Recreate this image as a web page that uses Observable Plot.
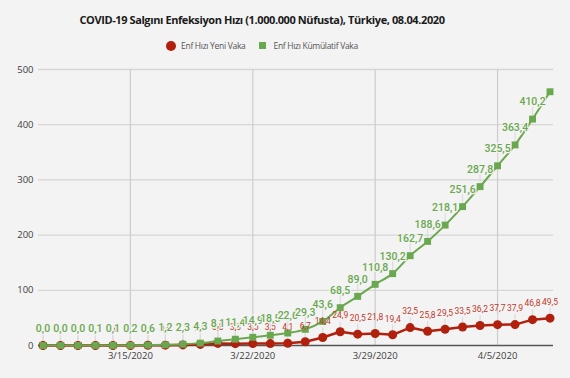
<!DOCTYPE html>
<html><head><meta charset="utf-8">
<script src="https://cdn.jsdelivr.net/npm/d3@7"></script>
<script src="https://cdn.jsdelivr.net/npm/@observablehq/plot@0.6"></script>
<style>
html,body{margin:0;padding:0;background:#f3f3f3;}
#wrap{width:570px;height:378px;background:#f3f3f3;position:relative;overflow:hidden;}
#title{position:absolute;top:12px;left:0;width:524px;text-align:center;font-family:"Open Sans",sans-serif;font-weight:bold;font-size:11px;letter-spacing:-0.4px;color:#1a1a1a;white-space:nowrap;}
#legend{position:absolute;top:40px;left:0;width:524px;display:flex;justify-content:center;align-items:center;font-family:"Open Sans",sans-serif;font-size:8.5px;letter-spacing:-0.3px;color:#555;}
.sw{display:inline-block;margin-right:5px;}
.item{display:flex;align-items:center;margin:0 7px;}
#chart{position:absolute;top:58px;left:0;}
</style></head>
<body><div id="wrap">
<div id="title">COVID-19 Salgını Enfeksiyon Hızı (1.000.000 Nüfusta), Türkiye, 08.04.2020</div>
<div id="legend">
 <span class="item"><span class="sw" style="width:10px;height:10px;border-radius:50%;background:#b0200c"></span>Enf Hızı Yeni Vaka</span>
 <span class="item"><span class="sw" style="width:7px;height:7px;background:#6aa84f;margin-right:7px"></span>Enf Hızı Kümülatif Vaka</span>
</div>
<div id="chart"></div>
</div>
<script>
const dates = ["2020-03-10","2020-03-11","2020-03-12","2020-03-13","2020-03-14","2020-03-15","2020-03-16","2020-03-17","2020-03-18","2020-03-19",
"2020-03-20","2020-03-21","2020-03-22","2020-03-23","2020-03-24","2020-03-25","2020-03-26","2020-03-27","2020-03-28","2020-03-29",
"2020-03-30","2020-03-31","2020-04-01","2020-04-02","2020-04-03","2020-04-04","2020-04-05","2020-04-06","2020-04-07","2020-04-08"];
const yeniVaka = [0.0,0.0,0.0,0.1,0.0,0.1,0.4,0.6,1.1,2.0,
3.8,3.3,3.5,3.5,4.1,6.7,14.4,24.9,20.5,21.8,
19.4,32.5,25.8,29.5,33.5,36.2,37.7,37.9,46.8,49.5];
const kumulatifVaka = [0.0,0.0,0.0,0.1,0.1,0.2,0.6,1.2,2.3,4.3,
8.1,11.4,14.9,18.5,22.6,29.3,43.6,68.5,89.0,110.8,
130.2,162.7,188.6,218.1,251.6,287.8,325.5,363.4,410.2,459.7];
const showKumLabel = dates.map((d,i)=> i < dates.length-1);
const yTicks = [0,100,200,300,400,500];
const xTicks = ["2020-03-15","2020-03-22","2020-03-29","2020-04-05"];

const RED = "#b0200c", GREEN = "#6aa84f";
const parse = d3.utcParse("%Y-%m-%d");
const rows = dates.map((d,i)=>({date: parse(d), yeni: yeniVaka[i], kum: kumulatifVaka[i], showKum: showKumLabel[i]}));
const fmt = v => d3.format(".1f")(v).replace(".", ",");
const leader = {draw(ctx, l){ ctx.moveTo(0,0); ctx.lineTo(0,-l); }};

const chart = Plot.plot({
  width: 570, height: 320,
  marginLeft: 38, marginRight: 17, marginTop: 11, marginBottom: 33,
  style: {background: "transparent", fontFamily: "Open Sans, sans-serif"},
  x: {type: "utc", domain: [new Date("2020-03-09T17:50:00Z"), new Date("2020-04-08T04:48:00Z")]},
  y: {domain: [0, 500]},
  marks: [
    Plot.gridY(yTicks.filter(d => d > 0), {stroke: "#d6d6d6", strokeOpacity: 1, strokeWidth: 1.3}),
    Plot.gridX(xTicks.map(parse), {stroke: "#cdcdcd", strokeOpacity: 1, strokeWidth: 1.2}),
    Plot.axisY(yTicks, {tickSize: 0, tickPadding: 5, fontSize: 9.5, fill: "#404040", label: null}),
    Plot.axisX(xTicks.map(parse), {tickSize: 0, tickPadding: 7, fontSize: 9.5, fill: "#404040", label: null, tickFormat: d3.utcFormat("%-m/%-d/%Y")}),
    Plot.vector(rows, {x: "date", y: "kum", length: 12, rotate: 0, anchor: "start", shape: leader, stroke: "#dcdcdc", strokeWidth: 1.2, filter: d => d.showKum}),
    Plot.vector(rows, {x: "date", y: "yeni", length: 10, rotate: 0, anchor: "start", shape: leader, stroke: "#dcdcdc", strokeWidth: 1.2}),
    Plot.ruleY([0], {stroke: "#555", strokeWidth: 1.3}),
    Plot.line(rows, {x: "date", y: "yeni", stroke: RED, strokeWidth: 2.5}),
    Plot.dot(rows, {x: "date", y: "yeni", r: 4.5, fill: RED, stroke: "none"}),
    Plot.line(rows, {x: "date", y: "kum", stroke: GREEN, strokeWidth: 2, curve: "monotone-x"}),
    Plot.dot(rows, {x: "date", y: "kum", r: 3.9, symbol: "square", fill: GREEN, stroke: "none"}),
    Plot.text(rows, {x: "date", y: "yeni", text: d => fmt(d.yeni), dy: -16, fill: "#c0392b", fontSize: 8.5, fontFamily: "Roboto"}),
    Plot.text(rows, {x: "date", y: "kum", text: d => fmt(d.kum), dy: -17, fill: GREEN, stroke: "#f3f3f3", strokeWidth: 2.5, fontSize: 10.5, fontWeight: 500, fontFamily: "Roboto", filter: d => d.showKum})
  ]
});
document.getElementById("chart").appendChild(chart);
</script>
</body></html>
